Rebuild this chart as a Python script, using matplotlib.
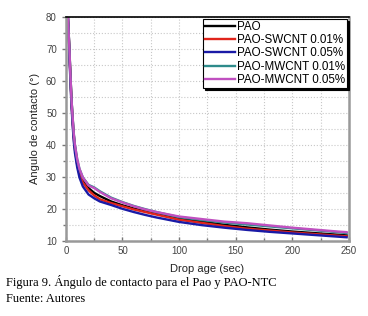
import matplotlib.pyplot as plt
from matplotlib.ticker import MultipleLocator

plt.rcParams['font.family'] = ['Liberation Sans', 'DejaVu Sans']

# drop age (sec) and contact angle (deg)
t = [1.8, 3, 4, 5, 6, 7, 8, 10, 12, 15, 20, 25, 30, 40, 50, 60, 70, 80, 90, 100,
     120, 140, 160, 180, 200, 220, 240, 248]

pao = [80, 71, 62, 54, 48, 43, 39.5, 34.5, 31.5, 29, 26.5, 25, 24, 22.3, 21.1, 20.1,
       19.3, 18.5, 17.7, 17.0, 16.0, 15.0, 14.2, 13.5, 12.9, 12.4, 11.9, 11.7]
swcnt_001 = [80, 70, 61, 53, 47, 42, 38.5, 33.8, 30.8, 28.2, 25.8, 24.2, 23.0, 21.8, 20.8, 19.8,
             19.0, 18.2, 17.4, 16.6, 15.6, 14.6, 13.8, 13.2, 12.6, 12.1, 11.6, 11.4]
swcnt_005 = [80, 69, 60, 52, 46, 41, 37.5, 33, 29.8, 27, 24.5, 23.3, 22.3, 21.2, 20.0, 19.0,
             18.1, 17.3, 16.6, 15.9, 14.9, 14.1, 13.4, 12.8, 12.3, 11.8, 11.3, 11.1]
mwcnt_001 = [80, 71, 62, 54, 48.5, 43.5, 40, 35.5, 32.5, 29.8, 27.5, 26.7, 25.5, 23.5, 22.1, 20.9,
             19.9, 19.0, 18.2, 17.4, 16.5, 15.7, 15.1, 14.5, 13.9, 13.3, 12.7, 12.4]
mwcnt_005 = [80, 71, 62, 54, 48.5, 43.5, 40, 35.5, 32.5, 29.8, 27.3, 26.5, 25.3, 23.3, 22.0, 20.8,
             19.8, 19.0, 18.3, 17.6, 16.8, 16.0, 15.5, 14.8, 14.1, 13.5, 12.9, 12.7]

labels = ["PAO", "PAO-SWCNT 0.01%", "PAO-SWCNT 0.05%", "PAO-MWCNT 0.01%", "PAO-MWCNT 0.05%"]
colors = ["black", "#e0241b", "#1a1aa6", "#2e8b8b", "#c050c0"]
series = [pao, swcnt_001, swcnt_005, mwcnt_001, mwcnt_005]

fig = plt.figure(figsize=(3.68, 3.16), dpi=100)
ax = fig.add_axes([0.179, 0.238, 0.769, 0.708])

for y, c, lab in zip(series, colors, labels):
    ax.plot(t, y, color=c, lw=1.7, label=lab)

ax.set_xlim(0, 250)
ax.set_ylim(10, 80)
ax.xaxis.set_major_locator(MultipleLocator(50))
ax.xaxis.set_minor_locator(MultipleLocator(25))
ax.yaxis.set_major_locator(MultipleLocator(10))
ax.yaxis.set_minor_locator(MultipleLocator(5))
ax.grid(True, which="both", ls=":", color="#c8c8c8", lw=0.8)

ax.tick_params(axis="x", which="both", direction="in", colors="#777777", labelcolor="#444444", labelsize=7)
ax.tick_params(axis="y", which="both", direction="out", colors="#777777", labelcolor="#444444", labelsize=7)
ax.tick_params(which="major", length=3, width=1)
ax.tick_params(which="minor", length=2, width=1)

for s in ["left", "bottom", "right"]:
    ax.spines[s].set_color("#999999")
    ax.spines[s].set_linewidth(1.8)
ax.spines["top"].set_color("black")
ax.spines["top"].set_linewidth(1.2)

ax.set_xlabel("Drop age (sec)", fontsize=8, color="#222222", labelpad=6)
ax.set_ylabel("Angulo de contacto (°)", fontsize=8, color="#222222", labelpad=4)

leg = ax.legend(loc="upper right", fontsize=8.4, frameon=True, fancybox=False,
                edgecolor="black", framealpha=1, handlelength=2.6, handletextpad=0.1,
                labelspacing=0.1, borderpad=0.15, borderaxespad=0.2,
                shadow={"ox": 1.5, "oy": -1.5, "color": "black", "alpha": 1})
leg.get_frame().set_linewidth(0.8)

fig.text(0.016, 0.095, "Figura 9. Ángulo de contacto para el Pao y PAO-NTC",
         family="Liberation Serif", fontsize=9)
fig.text(0.016, 0.045, "Fuente: Autores", family="Liberation Serif", fontsize=9)

fig.savefig("out.png", dpi=100)
